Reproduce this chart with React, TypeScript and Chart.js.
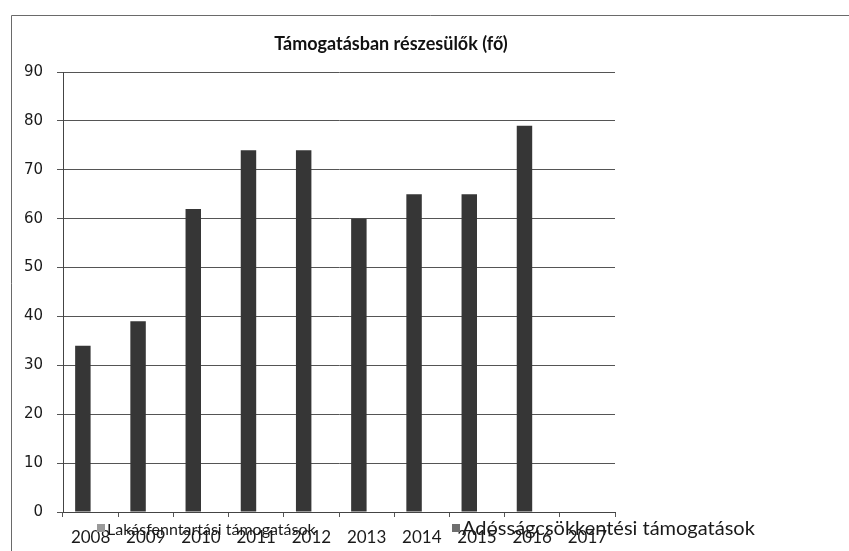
import React, { useEffect, useRef } from "react";
import { Chart, registerables } from "chart.js";

Chart.register(...registerables);

const TITLE = "Támogatásban részesülők (fő)";
const YEARS = ["2008", "2009", "2010", "2011", "2012", "2013", "2014", "2015", "2016", "2017"];
const LAKASFENNTARTASI = [34, 39, 62, 74, 74, 60, 65, 65, 79, null];
const ADOSSAGCSOKKENTESI = [null, null, null, null, null, null, null, null, null, null];
const SERIES_NAMES = ["Lakásfenntartási támogatások", "Adósságcsökkentési támogatások"];
const SERIES_COLORS = ["#363636", "#5a5a5a"];
const LEGEND_BOX_COLORS = ["#9a9a9a", "#6e6e6e"];
const Y_MIN = 0;
const Y_MAX = 90;
const Y_STEP = 10;

const decorPlugin = {
  id: "decor",
  beforeDraw(chart: any) {
    const { ctx, width, height } = chart;
    ctx.save();
    ctx.fillStyle = "#ffffff";
    ctx.fillRect(0, 0, width, height);
    ctx.strokeStyle = "#6a6a6a";
    ctx.lineWidth = 1;
    ctx.beginPath();
    ctx.moveTo(11.5, height);
    ctx.lineTo(11.5, 15.5);
    ctx.lineTo(width, 15.5);
    ctx.stroke();
    ctx.restore();
  },
  afterDraw(chart: any) {
    const { ctx } = chart;
    ctx.save();
    // title
    ctx.fillStyle = "#111111";
    ctx.font = "bold 18px Lato";
    ctx.textAlign = "center";
    ctx.textBaseline = "middle";
    ctx.fillText(TITLE, 391, 44);
    // legend
    const items = [
      { x: 97, size: 16 },
      { x: 452, size: 20 },
    ];
    chart.data.datasets.forEach((ds: any, i: number) => {
      const it = items[i];
      ctx.fillStyle = LEGEND_BOX_COLORS[i];
      ctx.fillRect(it.x, 524, 8, 8);
      ctx.fillStyle = "#1a1a1a";
      ctx.font = `${it.size}px Lato`;
      ctx.textAlign = "left";
      ctx.textBaseline = "alphabetic";
      ctx.fillText(ds.label, it.x + 10, 535);
    });
    ctx.restore();
  },
};

export default function App() {
  const ref = useRef<HTMLCanvasElement | null>(null);

  useEffect(() => {
    if (!ref.current) return;
    const chart = new Chart(ref.current, {
      type: "bar",
      data: {
        labels: YEARS,
        datasets: [
          {
            label: SERIES_NAMES[0],
            data: LAKASFENNTARTASI,
            backgroundColor: SERIES_COLORS[0],
            borderWidth: 0,
            categoryPercentage: 0.56,
            barPercentage: 1,
          },
          {
            label: SERIES_NAMES[1],
            data: ADOSSAGCSOKKENTESI,
            backgroundColor: SERIES_COLORS[1],
            borderWidth: 0,
            categoryPercentage: 0.56,
            barPercentage: 1,
          },
        ],
      },
      options: {
        responsive: false,
        maintainAspectRatio: false,
        animation: false,
        layout: { padding: { top: 72, right: 234, left: 0, bottom: 0 } },
        plugins: {
          legend: { display: false },
          title: { display: false },
          tooltip: { enabled: false },
        },
        scales: {
          x: {
            grid: {
              display: true,
              drawOnChartArea: false,
              tickLength: 5,
              color: "#555555",
              offset: true,
            },
            border: { color: "#444444", width: 1 },
            ticks: {
              font: { family: "Lato", size: 17 },
              color: "#1a1a1a",
              padding: 10,
              maxRotation: 0,
              autoSkip: false,
            },
            afterFit: (s: any) => {
              s.height = 39;
            },
          },
          y: {
            min: Y_MIN,
            max: Y_MAX,
            ticks: {
              stepSize: Y_STEP,
              font: { family: "DejaVu Sans", size: 15 },
              color: "#1a1a1a",
              padding: 14,
            },
            grid: { color: "#555555", tickLength: 6 },
            border: { color: "#444444", width: 1 },
            afterFit: (s: any) => {
              s.width = 63;
            },
          },
        },
      },
      plugins: [decorPlugin],
    });
    return () => chart.destroy();
  }, []);

  return (
    <div style={{ position: "absolute", left: 0, top: 0, width: 849, height: 551 }}>
      <canvas ref={ref} width={849} height={551} style={{ display: "block" }} />
    </div>
  );
}
